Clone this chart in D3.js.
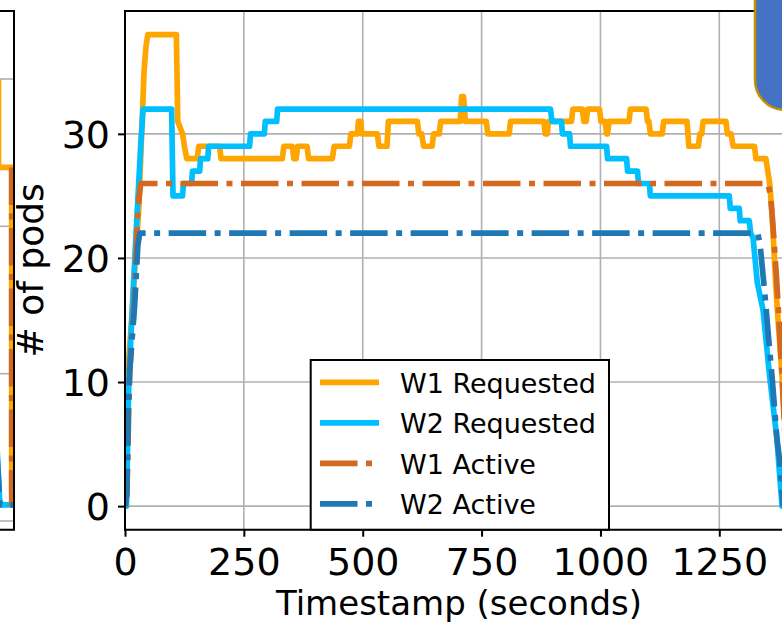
<!DOCTYPE html>
<html>
<head>
<meta charset="utf-8">
<script src="https://cdn.jsdelivr.net/npm/d3@7"></script>
<style>
  body { margin: 0; background: #fff; }
  svg { display: block; }
  text { font-family: "DejaVu Sans", sans-serif; fill: #000; }
</style>
</head>
<body>
<div id="chart"></div>
<script>
// pod counts over time, [seconds, pods]
var w1Requested = [[0,11],[8,12],[16,16],[22,20],[29,24],[35,30],[40,35],[44,37],[48,38],
  [108,38],[111,31],[116,30.5],[121,30],[125,29],[130,28],
  [152,28],[155,29],[199,29],[202,28],[331,28],[334,29],[352,29],[355,28],[360,28],[363,29],[383,29],[386,28],
  [436,28],[440,29],[472,29],[475,30],[489,30],[491,31],[496,31],[498,30],[531,30],[534,29],[551,29],[554,31],
  [615,31],[618,30],[624,30],[628,29],[646,29],[649,30],[661,30],[664,31],[705,31],[708,33],[712,33],[716,31],
  [760,31],[763,30],[808,30],[811,31],[881,31],[884,30],[888,30],[891,31],[939,31],[942,32],[962,32],[965,31],
  [970,31],[973,32],[998,32],[1001,31],[1010,31],[1013,30],[1015,30],[1018,31],[1060,31],[1063,32],[1096,32],
  [1099,31],[1102,31],[1105,30],[1130,30],[1133,31],[1182,31],[1186,29],[1206,29],[1209,30],[1213,30],[1216,31],
  [1264,31],[1267,30],[1275,30],[1279,29],[1324,29],[1327,28],[1348,28],[1352,27],[1356,26],[1361,23.5],
  [1370,17],[1382,10.4],[1390,5],[1398,0]];

var w2Requested = [[0,0],[3,0],[8,10],[16,16.5],[26,24],[33,29],[38,32],[98,32],[101,25],[121,25],[123,26],
  [140,26],[142,27],[157,27],[159,28],[174,28],[176,29],[262,29],[264,30],[293,30],[295,31],[319,31],[321,32],
  [895,32],[898,31],[918,31],[920,30],[935,30],[937,29],[1013,29],[1015,28],[1055,28],[1057,27],[1078,27],
  [1080,26],[1103,26],[1105,25],[1271,25],[1273,24],[1292,24],[1294,23],[1313,23],[1316,22],[1321,21.6],
  [1330,18],[1342,15.8],[1356,10.4],[1371,5.5],[1382,0]];

var w1Active = [[0,0],[4,1],[8,8],[10,11],[14,13],[20,17],[26,23],[30,25],[33,26],[1352,26],[1358,25],
  [1364,22],[1371,18],[1382,10.5],[1395,0]];

var w2Active = [[0,0],[4,1],[7,8],[10,11],[14,13],[20,16],[27,21],[31,22],[1331,22],[1336,21],[1346,17],
  [1356,12.5],[1361,10.4],[1367,7.5],[1371,5.5],[1377,3.7],[1384,0]];

// tail end of the neighbouring panel on the left
var leftW1Requested = [[1392.25,30],[1392.25,24],[1398.85,24],[1398.85,2]];
var leftW1Active = [[1398.85,24],[1398.85,1]];
var leftW2Requested = [[1391.5,5],[1392.8,1.5],[1393.2,1.1],[1400,1.1]];
var leftW2Active = [[1391.5,4.5],[1393,1.1],[1400,1.1]];
var leftGrid = [0, 10, 20, 30];

var seriesNames = ["W1 Requested", "W2 Requested", "W1 Active", "W2 Active"];
var seriesColors = ["#FFA500", "#00BFFF", "#D2691E", "#1F77B4"];
var seriesDashed = [false, false, true, true];
var xTicks = [0, 250, 500, 750, 1000, 1250];
var yTicks = [0, 10, 20, 30];

var width = 782, height = 622;
var margin = {top: 11, left: 125, bottom: 529.7, right: 793};
var lineW = 5.7, dash = "37.5,8.5,6,8.5";

var svg = d3.select("#chart").append("svg")
    .attr("width", width)
    .attr("height", height);

var x = d3.scaleLinear().domain([0, 1405]).range([margin.left, margin.right]);
var y = d3.scaleLinear().domain([-1.9, 39.9]).range([margin.bottom, margin.top]);

svg.append("clipPath").attr("id", "plotclip")
  .append("rect")
    .attr("x", margin.left).attr("y", margin.top)
    .attr("width", margin.right - margin.left).attr("height", margin.bottom - margin.top);

// grid
var grid = svg.append("g").attr("stroke", "#b0b0b0").attr("stroke-width", 1.6);
grid.selectAll(".gx").data(xTicks).enter().append("line")
    .attr("x1", d => x(d)).attr("x2", d => x(d))
    .attr("y1", margin.top).attr("y2", margin.bottom);
grid.selectAll(".gy").data(yTicks).enter().append("line")
    .attr("x1", margin.left).attr("x2", margin.right)
    .attr("y1", d => y(d)).attr("y2", d => y(d));

// lines
var line = d3.line().x(d => x(d[0])).y(d => y(d[1]));
var allSeries = [w1Requested, w2Requested, w1Active, w2Active];
var plot = svg.append("g").attr("clip-path", "url(#plotclip)");
allSeries.forEach(function(s, i) {
  plot.append("path")
      .datum(s)
      .attr("d", line)
      .attr("fill", "none")
      .attr("stroke", seriesColors[i])
      .attr("stroke-width", lineW)
      .attr("stroke-linejoin", "round")
      .attr("stroke-linecap", seriesDashed[i] ? "butt" : "round")
      .attr("stroke-dasharray", seriesDashed[i] ? dash : null);
});

// axes
var xAxis = svg.append("g")
    .attr("transform", "translate(0," + margin.bottom + ")")
    .call(d3.axisBottom(x).tickValues(xTicks).tickFormat(d3.format("d"))
      .tickSize(7).tickSizeOuter(0).tickPadding(11.3));
var yAxis = svg.append("g")
    .attr("transform", "translate(" + margin.left + ",0)")
    .call(d3.axisLeft(y).tickValues(yTicks).tickFormat(d3.format("d"))
      .tickSize(7).tickSizeOuter(0).tickPadding(8));
[xAxis, yAxis].forEach(function(a) {
  a.select(".domain").remove();
  a.selectAll(".tick line").attr("stroke", "#000").attr("stroke-width", 2);
  a.selectAll(".tick text").attr("font-size", 38).attr("font-family", "DejaVu Sans");
});
yAxis.selectAll(".tick text").attr("dy", "0.353em");

// spines
var spines = svg.append("g").attr("stroke", "#000").attr("stroke-width", 2).attr("stroke-linecap", "square");
spines.append("line").attr("x1", margin.left).attr("x2", margin.left).attr("y1", margin.top).attr("y2", margin.bottom);
spines.append("line").attr("x1", margin.left).attr("x2", margin.right).attr("y1", margin.bottom).attr("y2", margin.bottom);
spines.append("line").attr("x1", margin.left).attr("x2", margin.right).attr("y1", margin.top).attr("y2", margin.top);

// axis labels
svg.append("text")
    .attr("x", (margin.left + margin.right) / 2)
    .attr("y", 614.5)
    .attr("text-anchor", "middle")
    .attr("font-size", 34)
    .text("Timestamp (seconds)");
svg.append("text")
    .attr("transform", "translate(43," + ((margin.top + margin.bottom) / 2) + ") rotate(-90)")
    .attr("text-anchor", "middle")
    .attr("font-size", 36)
    .text("# of pods");

// legend
var leg = svg.append("g");
leg.append("rect")
    .attr("x", 310.7).attr("y", 360)
    .attr("width", 298.3).attr("height", 169.7)
    .attr("fill", "#fff").attr("stroke", "#000").attr("stroke-width", 2);
seriesNames.forEach(function(name, i) {
  var cy = 382.3 + i * 40.5;
  leg.append("line")
      .attr("x1", 320).attr("x2", 379)
      .attr("y1", cy).attr("y2", cy)
      .attr("stroke", seriesColors[i])
      .attr("stroke-width", lineW)
      .attr("stroke-dasharray", seriesDashed[i] ? dash : null);
  leg.append("text")
      .attr("x", 400).attr("y", cy + 10.5)
      .attr("font-size", 27)
      .text(name);
});

// neighbouring panel, only its right edge is in frame
var lx = d3.scaleLinear().domain([1390, 1400]).range([-6, 14]);
var ly = d3.scaleLinear().domain([0, 30]).range([521, 79]);
var left = svg.append("g");
left.selectAll(".lg").data(leftGrid).enter().append("line")
    .attr("x1", 0).attr("x2", 14)
    .attr("y1", d => ly(d)).attr("y2", d => ly(d))
    .attr("stroke", "#b0b0b0").attr("stroke-width", 1.6);
var lline = d3.line().x(d => lx(d[0])).y(d => ly(d[1]));
[leftW1Requested, leftW2Requested, leftW1Active, leftW2Active].forEach(function(s, i) {
  left.append("path")
      .datum(s)
      .attr("d", lline)
      .attr("fill", "none")
      .attr("stroke", seriesColors[i])
      .attr("stroke-width", lineW)
      .attr("stroke-dasharray", seriesDashed[i] ? dash : null);
});
left.append("path")
    .attr("d", "M0," + margin.top + "H14V" + margin.bottom + "H0")
    .attr("fill", "none").attr("stroke", "#000").attr("stroke-width", 2);

// blue callout box peeking in at the top right
svg.append("rect")
    .attr("x", 755).attr("y", -40)
    .attr("width", 80).attr("height", 150)
    .attr("rx", 30)
    .attr("fill", "#4472C4")
    .attr("stroke", "#BF9000")
    .attr("stroke-width", 2.5);
</script>
</body>
</html>
